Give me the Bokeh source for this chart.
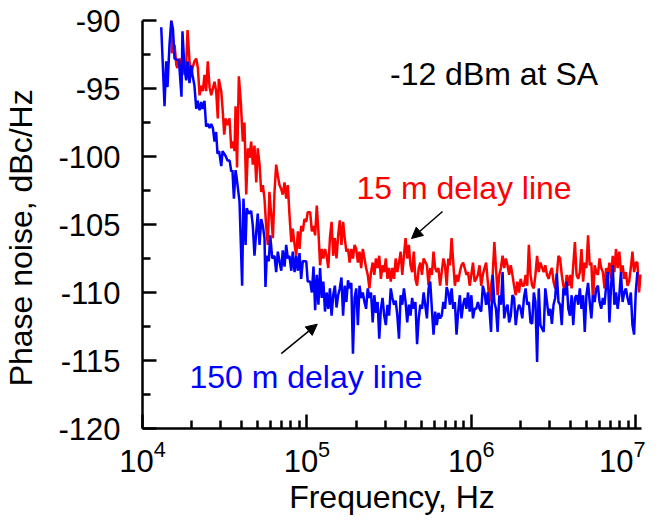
from bokeh.plotting import figure
from bokeh.models import FixedTicker, Label, Arrow, NormalHead, Range1d
from bokeh.embed import file_html
from bokeh.resources import INLINE

# ---- data (log10 of frequency in Hz, phase noise in dBc/Hz) ----
blue_low_logf = [4.114, 4.134, 4.144, 4.152, 4.164, 4.175, 4.185, 4.195, 4.213, 4.222,
                 4.237, 4.243, 4.255, 4.266, 4.274, 4.286, 4.296, 4.304, 4.316, 4.327,
                 4.335, 4.347, 4.357, 4.365, 4.377, 4.387, 4.397, 4.408, 4.418, 4.428,
                 4.438, 4.448, 4.456, 4.466, 4.479, 4.487, 4.507, 4.517, 4.530, 4.540,
                 4.547, 4.556, 4.566, 4.572, 4.590, 4.606, 4.614, 4.627, 4.634, 4.647,
                 4.661, 4.671, 4.681, 4.692, 4.701, 4.712, 4.722, 4.732, 4.742, 4.748,
                 4.756, 4.768, 4.777, 4.789, 4.803, 4.813, 4.823, 4.833, 4.844, 4.853,
                 4.864, 4.874, 4.884, 4.894, 4.905, 4.914, 4.925, 4.935, 4.945, 4.955,
                 4.965, 4.975, 4.985, 4.996, 5.005]
blue_low_db = [-90.5, -96.3, -93.0, -94.9, -91.8, -90.0, -90.6, -92.8, -92.9, -93.0,
               -95.6, -90.8, -93.5, -94.4, -93.0, -94.6, -93.3, -94.0, -94.8, -96.5,
               -95.9, -96.6, -96.0, -96.5, -95.9, -97.8, -97.6, -97.9, -97.6, -97.9,
               -98.9, -98.2, -99.8, -99.6, -100.7, -99.6, -100.0, -100.3, -100.3, -101.1,
               -101.0, -103.1, -101.0, -101.5, -103.3, -109.5, -103.1, -106.5, -103.8, -104.2,
               -104.0, -105.1, -107.3, -105.5, -104.2, -106.5, -104.6, -105.1, -106.0, -109.6,
               -107.3, -107.7, -105.8, -107.5, -107.3, -108.5, -107.0, -107.7, -108.4, -106.9,
               -108.1, -106.5, -107.5, -107.3, -108.4, -107.0, -108.5, -107.3, -108.4, -107.1,
               -109.0, -107.7, -107.7, -107.7, -109.2]

red_low_logf = [4.174, 4.178, 4.195, 4.206, 4.213, 4.225, 4.234, 4.243, 4.255, 4.264,
                4.274, 4.286, 4.296, 4.304, 4.316, 4.327, 4.337, 4.347, 4.357, 4.367,
                4.377, 4.387, 4.397, 4.408, 4.418, 4.428, 4.438, 4.448, 4.458, 4.464,
                4.479, 4.487, 4.497, 4.507, 4.517, 4.529, 4.540, 4.549, 4.560, 4.566,
                4.575, 4.586, 4.598, 4.610, 4.620, 4.631, 4.641, 4.651, 4.661, 4.671,
                4.681, 4.692, 4.701, 4.712, 4.722, 4.732, 4.742, 4.752, 4.762, 4.772,
                4.783, 4.793, 4.803, 4.813, 4.823, 4.833, 4.844, 4.853, 4.864, 4.874,
                4.884, 4.894, 4.905, 4.914, 4.925, 4.935, 4.945, 4.955, 4.965, 4.975,
                4.985, 4.996, 5.005]
red_low_db = [-89.0, -92.4, -91.8, -93.3, -93.5, -92.8, -93.0, -94.0, -93.0, -93.8,
              -90.7, -93.0, -94.0, -93.5, -93.0, -92.8, -93.5, -95.5, -94.8, -95.2,
              -94.0, -95.2, -93.0, -94.9, -95.5, -95.0, -94.5, -95.2, -97.2, -94.3,
              -95.2, -96.5, -98.4, -97.2, -97.7, -97.2, -99.4, -98.9, -99.6, -96.3,
              -100.8, -94.1, -96.0, -98.9, -97.5, -102.8, -99.4, -100.1, -98.9, -100.6,
              -99.2, -101.9, -99.4, -100.6, -102.6, -102.1, -103.1, -105.1, -106.5, -102.6,
              -104.3, -106.0, -102.6, -100.6, -101.4, -102.1, -102.4, -102.8, -101.9, -103.1,
              -102.1, -104.3, -106.3, -105.3, -106.5, -107.3, -105.5, -106.8, -105.1, -105.5,
              -104.6, -104.8, -104.1]

hf_logf = [5.02, 5.03, 5.04, 5.05, 5.06, 5.07, 5.08, 5.09, 5.10, 5.11,
           5.12, 5.13, 5.14, 5.15, 5.16, 5.17, 5.18, 5.19, 5.20, 5.21,
           5.22, 5.23, 5.24, 5.25, 5.26, 5.27, 5.28, 5.29, 5.30, 5.31,
           5.32, 5.33, 5.34, 5.35, 5.36, 5.37, 5.38, 5.39, 5.40, 5.41,
           5.42, 5.43, 5.44, 5.45, 5.46, 5.47, 5.48, 5.49, 5.50, 5.51,
           5.52, 5.53, 5.54, 5.55, 5.56, 5.57, 5.58, 5.59, 5.60, 5.61,
           5.62, 5.63, 5.64, 5.65, 5.66, 5.67, 5.68, 5.69, 5.70, 5.71,
           5.73, 5.74, 5.75, 5.76, 5.77, 5.78, 5.79, 5.80, 5.81, 5.82,
           5.83, 5.84, 5.85, 5.86, 5.87, 5.88, 5.89, 5.90, 5.91, 5.92,
           5.93, 5.94, 5.95, 5.96, 5.97, 5.98, 5.99, 6.00, 6.01, 6.02,
           6.03, 6.04, 6.05, 6.06, 6.07, 6.08, 6.09, 6.10, 6.11, 6.12,
           6.13, 6.14, 6.15, 6.16, 6.17, 6.18, 6.19, 6.20, 6.21, 6.22,
           6.23, 6.24, 6.25, 6.26, 6.27, 6.28, 6.29, 6.30, 6.31, 6.32,
           6.33, 6.34, 6.35, 6.36, 6.37, 6.38, 6.39, 6.40, 6.41, 6.42,
           6.44, 6.45, 6.46, 6.47, 6.48, 6.49, 6.50, 6.51, 6.52, 6.53,
           6.54, 6.55, 6.56, 6.57, 6.58, 6.59, 6.60, 6.61, 6.62, 6.63,
           6.64, 6.65, 6.66, 6.67, 6.68, 6.69, 6.70, 6.71, 6.72, 6.73,
           6.74, 6.75, 6.76, 6.77, 6.78, 6.79, 6.80, 6.81, 6.82, 6.83,
           6.84, 6.85, 6.86, 6.87, 6.88, 6.89, 6.90, 6.91, 6.92, 6.93,
           6.94, 6.95, 6.96, 6.97, 6.98, 6.99, 7.00, 7.01, 7.02, 7.03,
           7.04]

blue_hf_db = [-109.2, -110.0, -108.1, -111.3, -108.7, -110.9, -108.2, -110.4, -109.2, -111.4,
              -110.0, -111.2, -109.7, -111.7, -110.2, -109.5, -111.1, -110.2, -109.7, -108.9,
              -111.7, -109.5, -110.7, -109.1, -109.7, -109.3, -114.5, -110.4, -109.7, -112.4,
              -109.5, -110.4, -110.0, -110.7, -111.2, -109.7, -110.4, -110.0, -112.2, -110.2,
              -111.5, -110.7, -113.4, -111.2, -110.4, -111.7, -112.4, -110.9, -111.7, -109.7,
              -110.4, -110.9, -110.6, -111.7, -113.4, -110.2, -110.9, -109.7, -110.7, -112.2,
              -110.9, -111.7, -110.4, -111.2, -110.7, -113.8,
              -111.9, -110.9, -111.2, -110.0, -111.9, -109.7, -109.2, -111.2, -113.1, -111.4,
              -112.4, -111.5, -111.9, -111.7, -110.7, -111.2, -109.6, -110.0, -110.9, -109.7,
              -111.2, -110.7, -113.1, -111.4, -110.2, -111.9, -110.9, -110.4, -111.2, -110.0,
              -111.4, -110.2, -111.9, -111.2, -111.2, -110.7, -111.2, -111.4, -109.5, -110.0,
              -110.9, -110.0, -111.2, -112.9, -108.7, -110.7, -111.2, -112.9, -110.2, -110.9,
              -108.5, -111.9, -111.2, -110.9, -112.2, -111.7, -110.2, -110.4, -112.4, -111.4,
              -110.9, -111.2, -111.9, -110.4,
              -109.7, -110.9, -110.7, -112.2, -112.3, -110.0, -110.7, -115.1, -109.7, -112.4,
              -112.9, -109.7, -110.7, -111.7, -111.2, -112.3, -110.9, -110.4, -108.6, -110.7,
              -110.9, -112.4, -109.7, -110.2, -109.2, -111.2, -111.7, -110.2, -112.4, -110.4,
              -110.2, -110.9, -109.7, -111.2, -110.2, -112.9, -110.2, -109.3, -110.7, -111.9,
              -110.2, -110.7, -109.7, -109.5, -110.7, -111.2, -110.4, -110.9, -109.5, -108.5,
              -112.2, -109.5, -108.0, -110.9, -110.0, -111.2, -110.2, -108.5, -110.7, -110.0,
              -109.7, -110.4, -110.9, -110.0, -112.4, -113.1, -110.0, -108.5]

red_hf_db = [-104.1, -105.5, -105.1, -105.8, -103.6, -105.5, -108.0, -106.8, -107.5, -106.8,
             -107.3, -108.2, -106.0, -104.8, -107.3, -106.0, -107.5, -105.8, -104.7, -106.5,
             -104.8, -106.0, -107.0, -106.8, -107.8, -106.8, -107.5, -106.5, -106.8, -107.8,
             -107.0, -108.2, -106.8, -107.5, -108.2, -108.7, -109.7, -108.5, -107.8, -108.7,
             -107.5, -108.2, -107.3, -109.0, -108.0, -108.5, -107.5, -109.0, -108.2, -109.2,
             -108.2, -109.0, -107.5, -108.5, -107.8, -107.0, -108.7, -107.3, -106.0, -107.5,
             -106.5, -108.0, -108.5, -107.0, -109.0, -109.5,
             -108.2, -107.8, -108.7, -107.5, -108.0, -109.5, -108.2, -108.7, -107.0, -108.2,
             -108.5, -108.2, -109.5, -108.5, -107.5, -108.0, -109.5, -107.5, -108.0, -106.0,
             -107.8, -109.5, -108.7, -109.2, -108.5, -108.0, -107.8, -108.2, -108.7, -108.5,
             -109.5, -108.7, -107.8, -109.2, -109.0, -108.7, -108.0, -109.5, -108.7, -108.2,
             -107.8, -109.2, -110.7, -109.5, -108.7, -106.3, -108.2, -110.2, -108.7, -108.2,
             -107.3, -108.2, -107.5, -108.0, -108.7, -108.0, -108.7, -109.5, -110.2, -109.2,
             -110.0, -109.0, -109.5,
             -109.5, -108.7, -109.5, -106.5, -108.7, -109.5, -109.7, -108.7, -107.3, -108.5,
             -107.8, -108.5, -108.0, -108.7, -109.0, -108.5, -108.2, -109.2, -109.7, -108.7,
             -107.3, -107.5, -108.7, -109.5, -110.0, -108.7, -109.5, -108.7, -109.7, -108.0,
             -106.3, -108.7, -109.0, -108.5, -106.8, -109.2, -107.8, -108.2, -105.8, -108.0,
             -107.8, -110.7, -108.0, -108.5, -108.7, -107.5, -108.2, -108.5, -109.7, -108.2,
             -108.7, -107.8, -109.0, -107.3, -108.5, -106.8, -108.2, -107.0, -108.5, -108.0,
             -109.0, -108.5, -109.5, -109.2, -108.2, -107.0, -108.5, -107.8, -107.8, -110.0,
             -108.7, -108.9]

x_tick_values = [1e4, 1e5, 1e6, 1e7]
y_tick_values = [-120, -115, -110, -105, -100, -95, -90]
y_tick_labels = ["-120", "-115", "-110", "-105", "-100", "-95", "-90"]
y_minor_values = [-117.5, -112.5, -107.5, -102.5, -97.5, -92.5]

blue_f = [10 ** v for v in blue_low_logf + hf_logf[:len(blue_hf_db)]]
blue_y = blue_low_db + blue_hf_db
red_f = [10 ** v for v in red_low_logf + hf_logf[:len(red_hf_db)]]
red_y = red_low_db + red_hf_db

FONT = "Liberation Sans"

p = figure(x_axis_type="log", x_range=Range1d(1e4, 10 ** 7.035), y_range=Range1d(-120, -90),
           frame_width=499, frame_height=408,
           min_border_left=141, min_border_right=4, min_border_top=20, min_border_bottom=80,
           output_backend="svg", toolbar_location=None)
p.outline_line_color = None
p.xgrid.visible = False
p.ygrid.visible = False
p.background_fill_color = "white"

p.line(red_f, red_y, line_color="#ff0000", line_width=2.5)
p.line(blue_f, blue_y, line_color="#0000ff", line_width=2.5)

x_minor = [m * d for d in (1e4, 1e5, 1e6) for m in range(2, 10)]
p.xaxis.ticker = FixedTicker(ticks=x_tick_values, minor_ticks=x_minor)
p.yaxis.ticker = FixedTicker(ticks=y_tick_values, minor_ticks=y_minor_values)
p.yaxis.major_label_overrides = dict(zip(y_tick_values, y_tick_labels))

for ax in (p.xaxis[0], p.yaxis[0]):
    ax.axis_line_width = 2.5
    ax.axis_line_color = "black"
    ax.major_tick_line_width = 2.5
    ax.minor_tick_line_width = 2.5
    ax.major_tick_line_color = "black"
    ax.minor_tick_line_color = "black"
    ax.major_tick_in = 14
    ax.major_tick_out = 0
    ax.minor_tick_in = 8
    ax.minor_tick_out = 0
    ax.major_label_text_font = FONT
    ax.major_label_text_font_size = "31px"
    ax.major_label_text_color = "black"
    ax.axis_label_text_font = FONT
    ax.axis_label_text_font_size = "32px"
    ax.axis_label_text_font_style = "normal"
    ax.axis_label_text_color = "black"

p.xaxis.axis_label = "Frequency, Hz"
p.yaxis.axis_label = "Phase noise, dBc/Hz\u00a0\u00a0\u00a0"
p.xaxis.major_label_standoff = 11
p.xaxis.axis_label_standoff = 4
p.yaxis.major_label_standoff = 22
p.yaxis.axis_label_standoff = 16

p.add_layout(Label(x=3.2e5, y=-93.9, text="-12 dBm at SA", text_font=FONT,
                   text_font_size="32px", text_color="black", text_baseline="middle"))
p.add_layout(Label(x=2.0e5, y=-102.35, text="15 m delay line", text_font=FONT,
                   text_font_size="32px", text_color="#ff0000", text_baseline="middle"))
p.add_layout(Label(x=1.93e4, y=-116.2, text="150 m delay line", text_font=FONT,
                   text_font_size="32px", text_color="#0000ff", text_baseline="middle"))

p.add_layout(Arrow(end=NormalHead(size=11, fill_color="black", line_color="black", line_width=1),
                   x_start=6.68e5, y_start=-104.04, x_end=4.33e5, y_end=-106.03,
                   line_width=1.5, line_color="black"))
p.add_layout(Arrow(end=NormalHead(size=11, fill_color="black", line_color="black", line_width=1),
                   x_start=6.98e4, y_start=-114.49, x_end=1.156e5, y_end=-112.33,
                   line_width=1.5, line_color="black"))

open("out.html", "w").write(file_html(p, INLINE))
